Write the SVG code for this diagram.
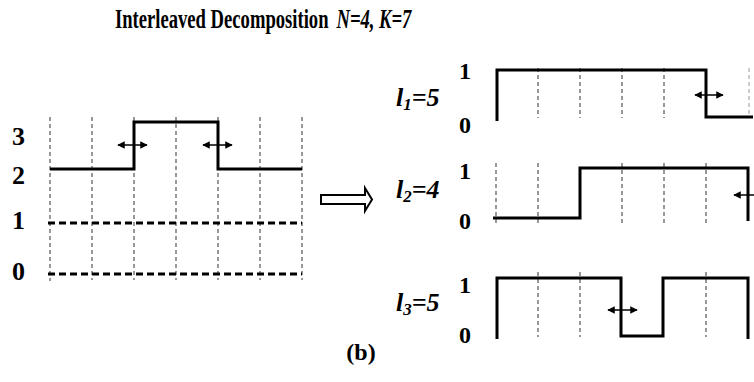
<svg xmlns="http://www.w3.org/2000/svg" width="754" height="382" viewBox="0 0 754 382">
<style>
text{font-family:"Liberation Serif","Times New Roman",serif;font-weight:bold;fill:#000}
.it{font-style:italic}
.grid{stroke:#333;stroke-width:1;stroke-dasharray:4,3;fill:none}
.gridl{stroke:#999;stroke-width:1;stroke-dasharray:4,3;fill:none}
.sig{stroke:#000;stroke-width:3;fill:none;stroke-linejoin:miter}
.lev{stroke:#000;stroke-width:3;stroke-dasharray:7,4;fill:none}
.dbl{stroke:#000;stroke-width:1.5;fill:none;marker-start:url(#ah);marker-end:url(#ah)}
</style>
<defs>
<marker id="ah" viewBox="0 0 10 10" refX="9" refY="5" markerWidth="5" markerHeight="5" orient="auto-start-reverse" markerUnits="strokeWidth">
<path d="M0,0 L10,5 L0,10 z" fill="#000"/>
</marker>
</defs>

<g id="title" transform="translate(115,28) scale(0.665,1)">
<text x="0" y="0" font-size="28">Interleaved Decomposition</text>
<text x="333" y="0" font-size="28" class="it">N=4, K=7</text>
</g>

<g id="left-panel">
<g class="grid">
<line x1="50" y1="117" x2="50" y2="281"/>
<line x1="92" y1="117" x2="92" y2="280"/>
<line x1="134" y1="117" x2="134" y2="280"/>
<line x1="176" y1="117" x2="176" y2="280"/>
<line x1="218" y1="117" x2="218" y2="280"/>
<line x1="260" y1="117" x2="260" y2="280"/>
<line x1="302" y1="117" x2="302" y2="280"/>
</g>
<line class="lev" x1="48" y1="223" x2="302" y2="223"/>
<line class="lev" x1="48" y1="274" x2="302" y2="274"/>
<polyline class="sig" points="50,169 134,169 134,122 218,122 218,169 302,169"/>
<line class="dbl" x1="118" y1="145" x2="147" y2="145"/>
<line class="dbl" x1="203" y1="145" x2="232" y2="145"/>
<text x="12" y="145" font-size="26">3</text>
<text x="12" y="184" font-size="26">2</text>
<text x="12" y="229" font-size="26">1</text>
<text x="12" y="280" font-size="26">0</text>
</g>

<g id="implies-arrow">
<polygon points="321,195 365,195 365,188 372,199.5 365,211 365,204 321,204" fill="#fff" stroke="#000" stroke-width="2"/>
</g>

<g id="row1">
<g class="grid">
<line x1="538" y1="68" x2="538" y2="118"/>
<line x1="580" y1="68" x2="580" y2="118"/>
<line x1="622" y1="68" x2="622" y2="118"/>
<line x1="664" y1="68" x2="664" y2="118"/>
</g>
<line class="gridl" x1="749" y1="68" x2="749" y2="116"/>
<polyline class="sig" points="497,121 497,70 706,70 706,117 753,117"/>
<line class="dbl" x1="695" y1="95" x2="723" y2="95"/>
<text x="459" y="79" font-size="24">1</text>
<text x="459" y="133" font-size="24">0</text>
<text x="396" y="106" font-size="26" class="it">l<tspan font-size="17" dy="4">1</tspan><tspan dy="-4">=5</tspan></text>
</g>

<g id="row2">
<g class="grid">
<line x1="496" y1="163" x2="496" y2="226"/>
<line x1="538" y1="163" x2="538" y2="225"/>
<line x1="622" y1="163" x2="622" y2="225"/>
<line x1="664" y1="163" x2="664" y2="225"/>
<line x1="706" y1="163" x2="706" y2="225"/>
</g>
<polyline class="sig" points="493,218 580,218 580,168 748,168 748,221"/>
<line class="dbl" x1="734" y1="195" x2="763" y2="195"/>
<text x="459" y="179" font-size="24">1</text>
<text x="459" y="229" font-size="24">0</text>
<text x="396" y="198" font-size="26" class="it">l<tspan font-size="17" dy="4">2</tspan><tspan dy="-4">=4</tspan></text>
</g>

<g id="row3">
<g class="grid">
<line x1="538" y1="272" x2="538" y2="337"/>
<line x1="580" y1="272" x2="580" y2="337"/>
<line x1="706" y1="272" x2="706" y2="337"/>
</g>
<polyline class="sig" points="497,339 497,278 621,278 621,336 663,336 663,278 748,278 748,339"/>
<line class="dbl" x1="608" y1="310" x2="637" y2="310"/>
<text x="459" y="293" font-size="24">1</text>
<text x="459" y="343" font-size="24">0</text>
<text x="396" y="311" font-size="26" class="it">l<tspan font-size="17" dy="4">3</tspan><tspan dy="-4">=5</tspan></text>
</g>

<g id="caption">
<text x="361" y="360" font-size="24" text-anchor="middle">(b)</text>
</g>
</svg>
